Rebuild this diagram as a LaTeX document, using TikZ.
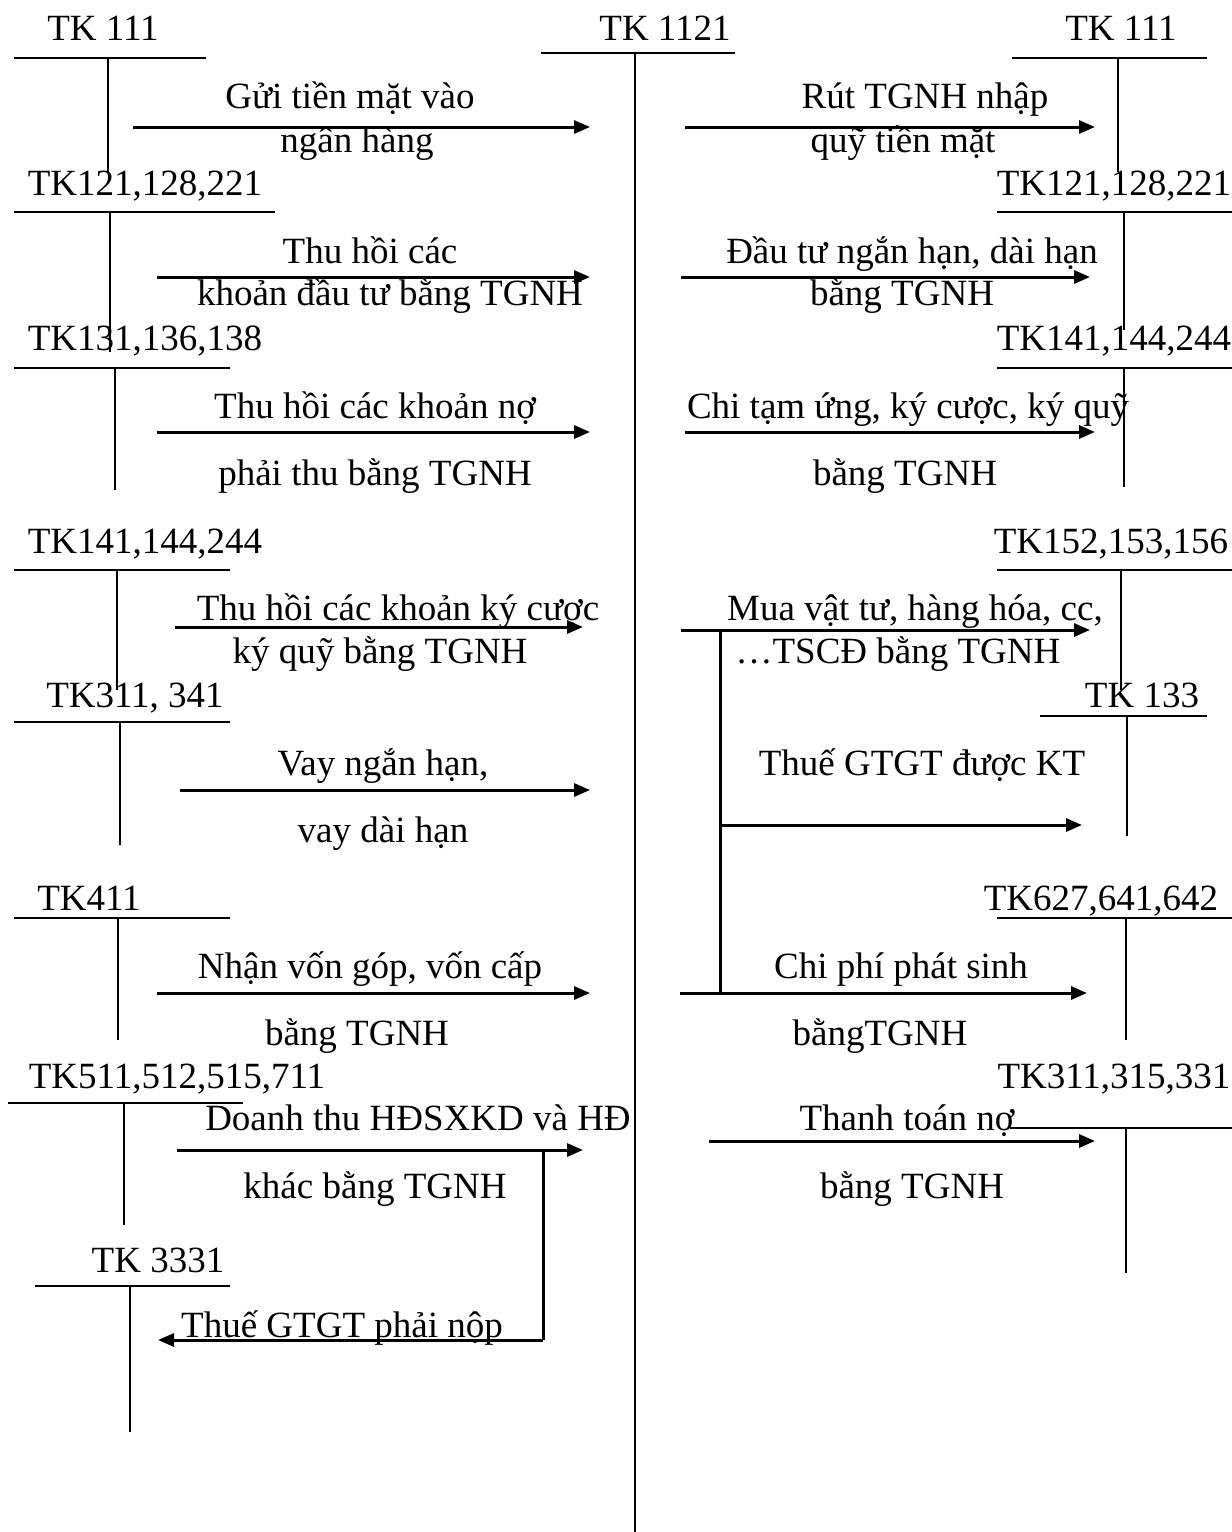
\documentclass[tikz,border=0pt]{standalone}
\usepackage{fontspec}
\setmainfont{Liberation Serif}
\usetikzlibrary{arrows.meta}
% T-account: name, label x, label baseline, label, rule left x, rule right x, rule y, stem x, stem end y
\newcommand\tacct[9]{%
  \node[txt] (#1) at (#2,#3) {#4};
  \coordinate (#1-l) at (#5,#7);
  \coordinate (#1-r) at (#6,#7);
  \coordinate (#1-t) at (#8,#7);
  \coordinate (#1-b) at (#8,#9);
  \draw[tline] (#1-l) -- (#1-r);
  \draw[tline] (#1-t) -- (#1-b);
}
% Flow arrow: name, start x, end x, y
\newcommand\flowarrow[4]{%
  \coordinate (#1-s) at (#2,#4);
  \coordinate (#1-e) at (#3,#4);
  \draw[flow] (#1-s) -- (#1-e);
}
\begin{document}
\begin{tikzpicture}[x=0.5pt,y=-0.5pt,
  tline/.style={line width=1pt},
  flow/.style={line width=1.5pt,-{Triangle[length=8pt,width=6.5pt]}},
  plain/.style={line width=1.5pt},
  txt/.style={anchor=base,inner sep=0pt,font=\fontsize{18.5}{20}\selectfont},
]
\useasboundingbox (0,0) rectangle (1232,1532);

% central account
\tacct{tgnh}{665}{40}{TK 1121}{541}{735}{53}{635}{1532}

% debit side accounts (left)
\tacct{a1}{103}{40}{TK 111}{14}{206}{58}{108}{172}
\tacct{a2}{145}{195}{TK121,128,221}{14}{275}{212}{110}{352}
\tacct{a3}{145}{350}{TK131,136,138}{14}{230}{368}{115}{490}
\tacct{a4}{145}{553}{TK141,144,244}{14}{230}{570}{117}{690}
\tacct{a5}{135}{707}{TK311, 341}{14}{230}{722}{120}{845}
\tacct{a6}{89}{910}{TK411}{14}{230}{918}{118}{1040}
\tacct{a7}{177}{1088}{TK511,512,515,711}{8}{243}{1103}{124}{1225}
\tacct{a8}{158}{1272}{TK 3331}{35}{230}{1286}{130}{1432}

% credit side accounts (right)
\tacct{b1}{1121}{40}{TK 111}{1012}{1207}{58}{1118}{172}
\tacct{b2}{1114}{195}{TK121,128,221}{997}{1232}{212}{1124}{330}
\tacct{b3}{1114}{350}{TK141,144,244}{997}{1232}{368}{1124}{487}
\tacct{b4}{1111}{553}{TK152,153,156}{997}{1232}{570}{1121}{690}
\tacct{b5}{1142}{707}{TK 133}{1040}{1207}{716}{1127}{836}
\tacct{b6}{1101}{910}{TK627,641,642}{997}{1232}{918}{1126}{1040}
\tacct{b7}{1114}{1088}{TK311,315,331}{1010}{1232}{1128}{1126}{1273}

% receipts into the bank account
\flowarrow{l1}{133}{590}{127}
\node[txt] (l1a) at (350,108) {Gửi tiền mặt vào};
\node[txt] (l1b) at (357,152) {ngân hàng};

\flowarrow{l2}{157}{590}{277}
\node[txt] (l2a) at (370,263) {Thu hồi các};
\node[txt] (l2b) at (390,305) {khoản đầu tư bằng TGNH};

\flowarrow{l3}{157}{590}{432}
\node[txt] (l3a) at (375,418) {Thu hồi các khoản nợ};
\node[txt] (l3b) at (375,485) {phải thu bằng TGNH};

\flowarrow{l4}{175}{583}{627}
\node[txt] (l4a) at (398,620) {Thu hồi các khoản ký cược};
\node[txt] (l4b) at (380,663) {ký quỹ bằng TGNH};

\flowarrow{l5}{180}{590}{790}
\node[txt] (l5a) at (383,775) {Vay ngắn hạn,};
\node[txt] (l5b) at (383,842) {vay dài hạn};

\flowarrow{l6}{157}{590}{993}
\node[txt] (l6a) at (370,978) {Nhận vốn góp, vốn cấp};
\node[txt] (l6b) at (357,1045) {bằng TGNH};

\flowarrow{l7}{177}{583}{1150}
\node[txt] (l7a) at (418,1130) {Doanh thu HĐSXKD và HĐ};
\node[txt] (l7b) at (375,1198) {khác bằng TGNH};

% output VAT branch
\coordinate (vat-a) at (543,1150);
\coordinate (vat-b) at (543,1340);
\coordinate (vat-e) at (158,1340);
\draw[plain] (vat-a) -- (vat-b);
\draw[flow] (vat-b) -- (vat-e);
\node[txt] (vata) at (342,1337) {Thuế GTGT phải nộp};

% payments out of the bank account
\flowarrow{r1}{685}{1095}{127}
\node[txt] (r1a) at (925,108) {Rút TGNH nhập};
\node[txt] (r1b) at (903,152) {quỹ tiền mặt};

\flowarrow{r2}{681}{1090}{277}
\node[txt] (r2a) at (912,263) {Đầu tư ngắn hạn, dài hạn};
\node[txt] (r2b) at (902,305) {bằng TGNH};

\flowarrow{r3}{685}{1095}{432}
\node[txt] (r3a) at (908,418) {Chi tạm ứng, ký cược, ký quỹ};
\node[txt] (r3b) at (905,485) {bằng TGNH};

\flowarrow{r4}{681}{1090}{630}
\node[txt] (r4a) at (915,620) {Mua vật tư, hàng hóa, cc,};
\node[txt] (r4b) at (898,663) {…TSCĐ bằng TGNH};

% input VAT branch
\coordinate (kt-a) at (720,630);
\coordinate (kt-m) at (720,825);
\coordinate (kt-b) at (720,993);
\coordinate (kt-e) at (1082,825);
\draw[plain] (kt-a) -- (kt-b);
\draw[flow] (kt-m) -- (kt-e);
\node[txt] (kta) at (922,775) {Thuế GTGT được KT};

\flowarrow{r5}{680}{1087}{993}
\node[txt] (r5a) at (901,978) {Chi phí phát sinh};
\node[txt] (r5b) at (880,1045) {bằngTGNH};

\flowarrow{r6}{709}{1095}{1141}
\node[txt] (r6a) at (907,1130) {Thanh toán nợ};
\node[txt] (r6b) at (912,1198) {bằng TGNH};
\end{tikzpicture}
\end{document}
